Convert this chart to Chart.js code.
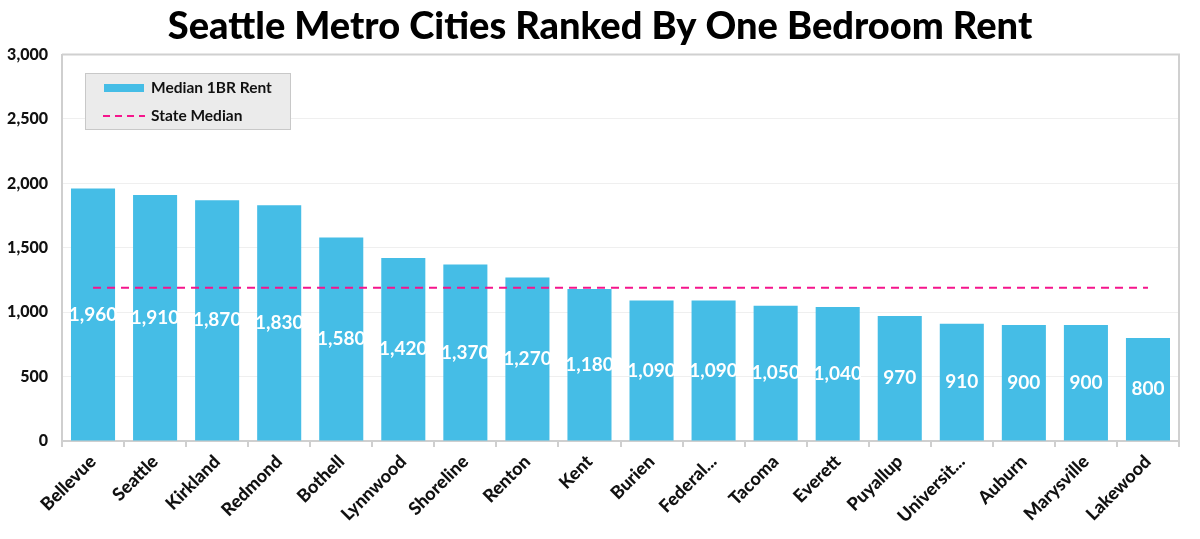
<!DOCTYPE html>
<html><head><meta charset="utf-8">
<script src="https://cdn.jsdelivr.net/npm/chart.js@4.4.1/dist/chart.umd.min.js"></script>
<style>html,body{margin:0;padding:0;background:#fff}#wrap{width:1200px;height:539px}</style>
</head><body><div id="wrap"><canvas id="c" width="1200" height="539"></canvas></div>
<script>
const cities = ["Bellevue","Seattle","Kirkland","Redmond","Bothell","Lynnwood","Shoreline","Renton","Kent","Burien","Federal...","Tacoma","Everett","Puyallup","Universit...","Auburn","Marysville","Lakewood"];
const rent = [1960,1910,1870,1830,1580,1420,1370,1270,1180,1090,1090,1050,1040,970,910,900,900,800];
const stateMedianValue = 1190;
const stateMedian = cities.map(() => stateMedianValue);
const yTicks = [0,500,1000,1500,2000,2500,3000];

const FONT = "Lato, 'Open Sans', sans-serif";
const BAR = '#45bde6';
const PINK = '#f5158c';

const extras = {
  id: 'extras',
  afterDatasetsDraw(chart) {
    const ctx = chart.ctx;
    const bi = chart.data.datasets.findIndex(d => d.type === 'bar');
    const meta = chart.getDatasetMeta(bi);
    ctx.save();
    ctx.fillStyle = '#fff';
    ctx.font = "bold 19px " + FONT;
    ctx.textAlign = 'center';
    ctx.textBaseline = 'middle';
    meta.data.forEach((bar, i) => {
      const v = chart.data.datasets[bi].data[i];
      const y = (bar.y + bar.base) / 2;
      ctx.fillText(v.toLocaleString('en-US'), bar.x, y);
    });
    ctx.restore();
  },
  afterDraw(chart) {
    const ctx = chart.ctx;
    const a = chart.chartArea;
    ctx.save();
    ctx.strokeStyle = '#d0d0d0';
    ctx.lineWidth = 2;
    ctx.beginPath();
    ctx.moveTo(a.left, a.top);
    ctx.lineTo(a.right, a.top);
    ctx.lineTo(a.right, a.bottom);
    ctx.stroke();
    const lx = 85, ly = 73, lw = 205, lh = 56;
    ctx.fillStyle = '#ebebeb';
    ctx.fillRect(lx, ly, lw, lh);
    ctx.strokeStyle = '#c8c8c8';
    ctx.lineWidth = 1;
    ctx.strokeRect(lx + 0.5, ly + 0.5, lw, lh);
    const bar = chart.data.datasets.find(d => d.type === 'bar');
    const line = chart.data.datasets.find(d => d.type === 'line');
    ctx.font = "bold 15.5px " + FONT;
    ctx.textAlign = 'left';
    ctx.textBaseline = 'middle';
    ctx.fillStyle = bar.backgroundColor;
    ctx.fillRect(104, 84, 40, 8);
    ctx.fillStyle = '#111';
    ctx.fillText(bar.label, 151, 88);
    ctx.strokeStyle = line.borderColor;
    ctx.lineWidth = 2;
    ctx.setLineDash([7, 5]);
    ctx.beginPath();
    ctx.moveTo(103, 116);
    ctx.lineTo(145, 116);
    ctx.stroke();
    ctx.setLineDash([]);
    ctx.fillStyle = '#111';
    ctx.fillText(line.label, 151, 116);
    ctx.restore();
  }
};

new Chart(document.getElementById('c'), {
  data: {
    labels: cities,
    datasets: [
      {
        type: 'line',
        label: 'State Median',
        data: stateMedian,
        borderColor: PINK,
        borderWidth: 2,
        borderDash: [8, 6],
        pointRadius: 0,
        fill: false,
        order: 0
      },
      {
        type: 'bar',
        label: 'Median 1BR Rent',
        data: rent,
        backgroundColor: BAR,
        barPercentage: 0.71,
        categoryPercentage: 1.0,
        order: 1
      }
    ]
  },
  options: {
    responsive: false,
    animation: false,
    devicePixelRatio: 1,
    layout: { padding: { left: 0, right: 0, top: 0, bottom: 0 } },
    plugins: {
      legend: { display: false },
      tooltip: { enabled: false },
      title: {
        display: true,
        text: 'Seattle Metro Cities Ranked By One Bedroom Rent',
        color: '#000',
        font: { family: FONT, size: 38, weight: '900', lineHeight: 1.2 },
        padding: { top: 4, bottom: 5 }
      }
    },
    scales: {
      x: {
        type: 'category',
        grid: { display: true, offset: true, drawOnChartArea: false, drawTicks: true, tickLength: 6, color: '#cfcfcf', lineWidth: 2 },
        border: { display: true, color: '#cfcfcf', width: 2 },
        ticks: {
          color: '#111',
          font: { family: FONT, size: 18, weight: '900' },
          maxRotation: 45, minRotation: 45,
          autoSkip: false,
          padding: 4
        },
        afterFit(s) { s.height = 98; }
      },
      y: {
        min: 0, max: 3000,
        afterBuildTicks(s) { s.ticks = yTicks.map(v => ({ value: v })); },
        grid: { color: '#efefef', lineWidth: 1, drawTicks: false },
        border: { display: true, color: '#cfcfcf', width: 2 },
        ticks: {
          color: '#111',
          font: { family: FONT, size: 16, weight: '900' },
          padding: 14,
          callback: v => v.toLocaleString('en-US')
        },
        afterFit(s) { s.width = 62; }
      },
      yRight: {
        position: 'right',
        min: 0, max: 3000,
        grid: { display: false, drawTicks: false },
        border: { display: false },
        ticks: { display: false },
        afterFit(s) { s.width = 21; }
      }
    }
  },
  plugins: [extras]
});
</script>
</body></html>
